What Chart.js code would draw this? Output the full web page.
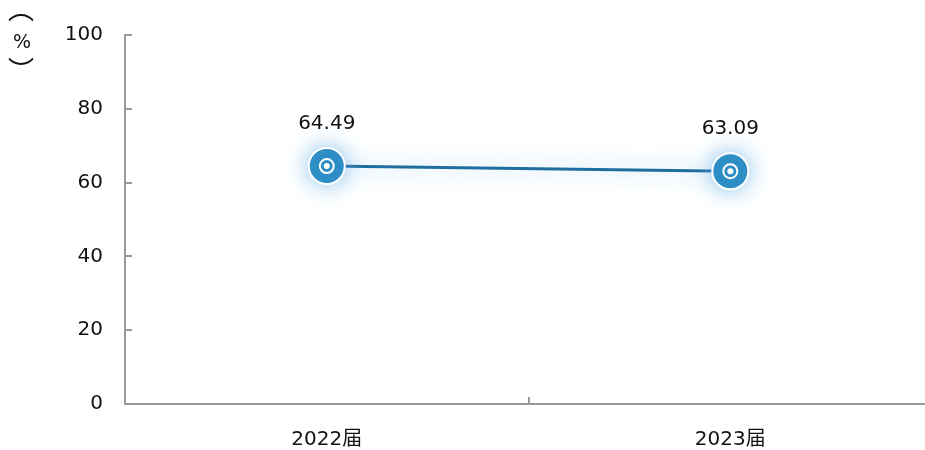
<!DOCTYPE html>
<html>
<head>
<meta charset="utf-8">
<script src="https://cdn.jsdelivr.net/npm/chart.js@4/dist/chart.umd.min.js"></script>
<style>
  html, body { margin: 0; padding: 0; background: #fff; }
  #wrap { width: 925px; height: 450px; }
</style>
</head>
<body>
<div id="wrap"><canvas id="c" width="925" height="450"></canvas></div>
<script>
const categories = ['2022届', '2023届'];
const rates = [64.49, 63.09];
const yTicks = [0, 20, 40, 60, 80, 100];

const axisGray = '#9a9a9a';
const font = "'DejaVu Sans', 'Noto Sans CJK SC', sans-serif";

// inward tick marks, value labels, ring markers and the vertical (%) unit
const decor = {
  id: 'decor',
  beforeDatasetsDraw(chart) {
    const ctx = chart.ctx;
    const x = chart.scales.x, y = chart.scales.y;
    ctx.save();
    ctx.strokeStyle = axisGray;
    ctx.lineWidth = 2;
    yTicks.forEach(v => {
      const py = Math.round(y.getPixelForValue(v));
      ctx.beginPath();
      ctx.moveTo(x.left, py);
      ctx.lineTo(x.left + 7, py);
      ctx.stroke();
    });
    const mid = Math.round(x.getPixelForValue(1));
    ctx.beginPath();
    ctx.moveTo(mid, y.bottom);
    ctx.lineTo(mid, y.bottom - 7);
    ctx.stroke();
    ctx.restore();
  },
  beforeDatasetDraw(chart) {
    const ctx = chart.ctx;
    ctx.save();
    ctx.shadowColor = 'rgba(100,175,228,0.75)';
    ctx.shadowBlur = 22;
  },
  afterDatasetDraw(chart) {
    chart.ctx.restore();
  },
  afterDatasetsDraw(chart) {
    const ctx = chart.ctx;
    const meta = chart.getDatasetMeta(0);
    ctx.save();
    meta.data.forEach((pt, i) => {
      ctx.strokeStyle = '#fff';
      ctx.lineWidth = 2;
      ctx.beginPath();
      ctx.arc(pt.x, pt.y, 7, 0, Math.PI * 2);
      ctx.stroke();
      ctx.fillStyle = '#fff';
      ctx.beginPath();
      ctx.arc(pt.x, pt.y, 3, 0, Math.PI * 2);
      ctx.fill();
      ctx.fillStyle = '#111';
      ctx.font = '20px ' + font;
      ctx.textAlign = 'center';
      ctx.textBaseline = 'middle';
      ctx.fillText(rates[i].toFixed(2), pt.x, pt.y - 42);
    });
    ctx.fillStyle = '#111';
    ctx.textAlign = 'center';
    ctx.textBaseline = 'middle';
    ctx.font = '19px ' + font;
    ctx.fillText('%', 22, 43);
    ctx.font = "26px 'Noto Sans CJK SC', sans-serif";
    ctx.fillText('︵', 21, 9);
    ctx.fillText('︶', 21, 70);
    ctx.restore();
  }
};

new Chart(document.getElementById('c'), {
  type: 'line',
  data: {
    datasets: [{
      data: rates.map((v, i) => ({ x: i + 0.5, y: v })),
      borderColor: '#1f6e9e',
      borderWidth: 3,
      backgroundColor: '#2a8dc5',
      pointBackgroundColor: '#2a8dc5',
      pointBorderColor: '#ffffff',
      pointBorderWidth: 2,
      pointRadius: 18,
      pointHoverRadius: 18,
      tension: 0
    }]
  },
  options: {
    responsive: false,
    animation: false,
    layout: { autoPadding: false, padding: { top: 35, right: 1, left: 0, bottom: 0 } },
    plugins: { legend: { display: false }, tooltip: { enabled: false } },
    scales: {
      x: {
        type: 'linear',
        min: 0,
        max: 1.98,
        afterBuildTicks: s => { s.ticks = [{ value: 0.5 }, { value: 1.5 }]; },
        afterFit: s => { s.height = 46; s.paddingLeft = 0; s.paddingRight = 0; },
        ticks: {
          callback: v => v === 0.5 ? categories[0] : (v === 1.5 ? categories[1] : ''),
          color: '#111',
          font: { size: 20, family: font },
          padding: 24,
          maxRotation: 0,
          autoSkip: false
        },
        grid: { display: false, drawTicks: false },
        border: { display: true, color: axisGray, width: 2 }
      },
      y: {
        min: 0,
        max: 100,
        afterBuildTicks: s => { s.ticks = yTicks.map(v => ({ value: v })); },
        afterFit: s => { s.width = 125; },
        ticks: {
          color: '#111',
          font: { size: 20, family: font },
          padding: 22
        },
        grid: { display: false, drawTicks: false },
        border: { display: true, color: axisGray, width: 2 }
      }
    }
  },
  plugins: [decor]
});
</script>
</body>
</html>
